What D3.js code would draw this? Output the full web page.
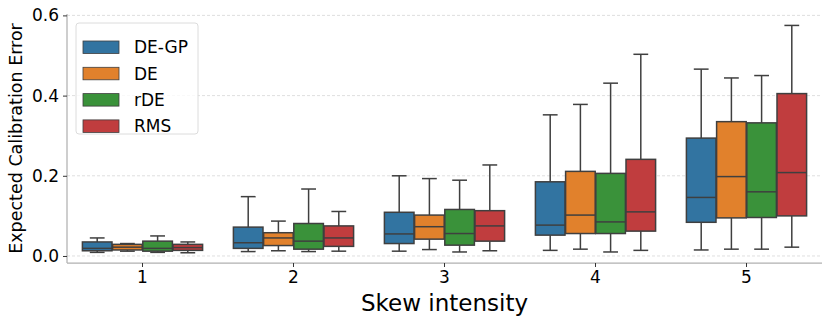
<!DOCTYPE html>
<html>
<head>
<meta charset="utf-8">
<script src="https://cdn.jsdelivr.net/npm/d3@7"></script>
<style>
  body { margin: 0; background: #fff; }
  svg { font-family: "DejaVu Sans", sans-serif; }
</style>
</head>
<body>
<script>
// skew levels on x axis
const categories = ['1', '2', '3', '4', '5']
const methods = ['DE-GP', 'DE', 'rDE', 'RMS']
const colors = ['#3274a1', '#e1812c', '#3a923a', '#c03d3e']
const yTicks = [0.0, 0.2, 0.4, 0.6]

// box stats per method, one entry per skew level: [whisker low, q1, median, q3, whisker high]
const degp = [
  [0.009, 0.013, 0.019, 0.035, 0.045],
  [0.011, 0.019, 0.033, 0.072, 0.148],
  [0.012, 0.031, 0.055, 0.109, 0.200],
  [0.014, 0.052, 0.077, 0.185, 0.352],
  [0.015, 0.084, 0.146, 0.294, 0.466]
]
const de = [
  [0.012, 0.015, 0.022, 0.029, 0.031],
  [0.013, 0.026, 0.045, 0.058, 0.087],
  [0.016, 0.042, 0.073, 0.102, 0.193],
  [0.017, 0.056, 0.102, 0.211, 0.378],
  [0.017, 0.095, 0.198, 0.335, 0.444]
]
const rde = [
  [0.009, 0.012, 0.019, 0.037, 0.050],
  [0.011, 0.017, 0.037, 0.081, 0.167],
  [0.010, 0.027, 0.056, 0.116, 0.189],
  [0.010, 0.056, 0.085, 0.206, 0.431],
  [0.017, 0.096, 0.160, 0.332, 0.450]
]
const rms = [
  [0.008, 0.014, 0.021, 0.029, 0.035],
  [0.012, 0.024, 0.045, 0.075, 0.111],
  [0.013, 0.037, 0.075, 0.113, 0.227],
  [0.014, 0.062, 0.110, 0.241, 0.503],
  [0.022, 0.100, 0.208, 0.405, 0.575]
]
const series = [degp, de, rde, rms]

const WIDTH = 830
const HEIGHT = 324
const margin = {left: 67, right: 8, top: 14, bottom: 61}

const svg = d3.select('body').append('svg')
  .attr('width', WIDTH).attr('height', HEIGHT)

const x = d3.scaleBand()
  .domain(categories)
  .range([margin.left, WIDTH - margin.right])

const y = d3.scaleLinear()
  .domain([-0.0175, 0.6035])
  .range([HEIGHT - margin.bottom, margin.top])

const xHue = d3.scaleBand()
  .domain(methods)
  .range([x.bandwidth() * 0.1, x.bandwidth() * 0.9])

const boxW = xHue.bandwidth() * 0.98
const lineCol = '#3f3f3f'

// grid
svg.append('g')
  .selectAll('line')
  .data(yTicks)
  .enter()
  .append('line')
  .attr('x1', margin.left).attr('x2', WIDTH - margin.right)
  .attr('y1', d => y(d)).attr('y2', d => y(d))
  .attr('stroke', '#d5d5d5')
  .attr('stroke-width', 0.8)
  .attr('stroke-dasharray', '3,2')

// boxes
series.forEach((s, m) => {
  const g = svg.append('g')
  s.forEach((d, i) => {
    const cx = x(categories[i]) + xHue(methods[m]) + xHue.bandwidth() / 2
    const [lo, q1, med, q3, hi] = d
    const capW = boxW / 2
    // whiskers
    g.append('line').attr('x1', cx).attr('x2', cx)
      .attr('y1', y(q3)).attr('y2', y(hi))
      .attr('stroke', lineCol).attr('stroke-width', 1.5)
    g.append('line').attr('x1', cx).attr('x2', cx)
      .attr('y1', y(q1)).attr('y2', y(lo))
      .attr('stroke', lineCol).attr('stroke-width', 1.5)
    g.append('line').attr('x1', cx - capW / 2).attr('x2', cx + capW / 2)
      .attr('y1', y(hi)).attr('y2', y(hi))
      .attr('stroke', lineCol).attr('stroke-width', 1.5)
    g.append('line').attr('x1', cx - capW / 2).attr('x2', cx + capW / 2)
      .attr('y1', y(lo)).attr('y2', y(lo))
      .attr('stroke', lineCol).attr('stroke-width', 1.5)
    g.append('rect')
      .attr('x', cx - boxW / 2).attr('width', boxW)
      .attr('y', y(q3)).attr('height', y(q1) - y(q3))
      .attr('fill', colors[m])
      .attr('stroke', lineCol).attr('stroke-width', 1.5)
    g.append('line').attr('x1', cx - boxW / 2).attr('x2', cx + boxW / 2)
      .attr('y1', y(med)).attr('y2', y(med))
      .attr('stroke', lineCol).attr('stroke-width', 1.5)
  })
})

// axes
const yAxis = svg.append('g')
  .attr('transform', `translate(${margin.left},0)`)
  .call(d3.axisLeft(y).tickValues(yTicks).tickFormat(d3.format('.1f')).tickSize(4).tickPadding(4))
const xAxis = svg.append('g')
  .attr('transform', `translate(0,${HEIGHT - margin.bottom})`)
  .call(d3.axisBottom(x).tickSize(4).tickPadding(4))

;[xAxis, yAxis].forEach(a => {
  a.select('.domain').attr('stroke', '#b0b0b0').attr('stroke-width', 1.25)
  a.selectAll('.tick line').attr('stroke', '#333').attr('stroke-width', 1)
  a.selectAll('.tick text').attr('font-size', 17).attr('fill', '#000')
    .attr('font-family', '"DejaVu Sans", sans-serif')
})
xAxis.select('.domain').attr('d', `M${margin.left},0H${WIDTH - margin.right}`)
yAxis.select('.domain').attr('d', `M0,${margin.top}V${HEIGHT - margin.bottom}`)

svg.append('text')
  .attr('x', (margin.left + WIDTH - margin.right) / 2)
  .attr('y', 311)
  .attr('text-anchor', 'middle')
  .attr('font-size', 23)
  .text('Skew intensity')

svg.append('text')
  .attr('transform', `translate(22,${(margin.top + HEIGHT - margin.bottom) / 2}) rotate(-90)`)
  .attr('text-anchor', 'middle')
  .attr('font-size', 17.5)
  .text('Expected Calibration Error')

// legend
const leg = svg.append('g').attr('transform', 'translate(76,23)')
leg.append('rect')
  .attr('width', 122).attr('height', 111).attr('rx', 3)
  .attr('fill', 'rgba(255,255,255,0.8)')
  .attr('stroke', '#dcdcdc').attr('stroke-width', 1)
methods.forEach((m, i) => {
  leg.append('rect')
    .attr('x', 7).attr('y', 18 + i * 26.3)
    .attr('width', 36).attr('height', 12.5)
    .attr('fill', colors[i])
    .attr('stroke', lineCol).attr('stroke-width', 0.8)
  leg.append('text')
    .attr('x', 58).attr('y', 24.5 + i * 26.3)
    .attr('dy', '0.35em')
    .attr('font-size', 17)
    .text(m)
})
</script>
</body>
</html>
